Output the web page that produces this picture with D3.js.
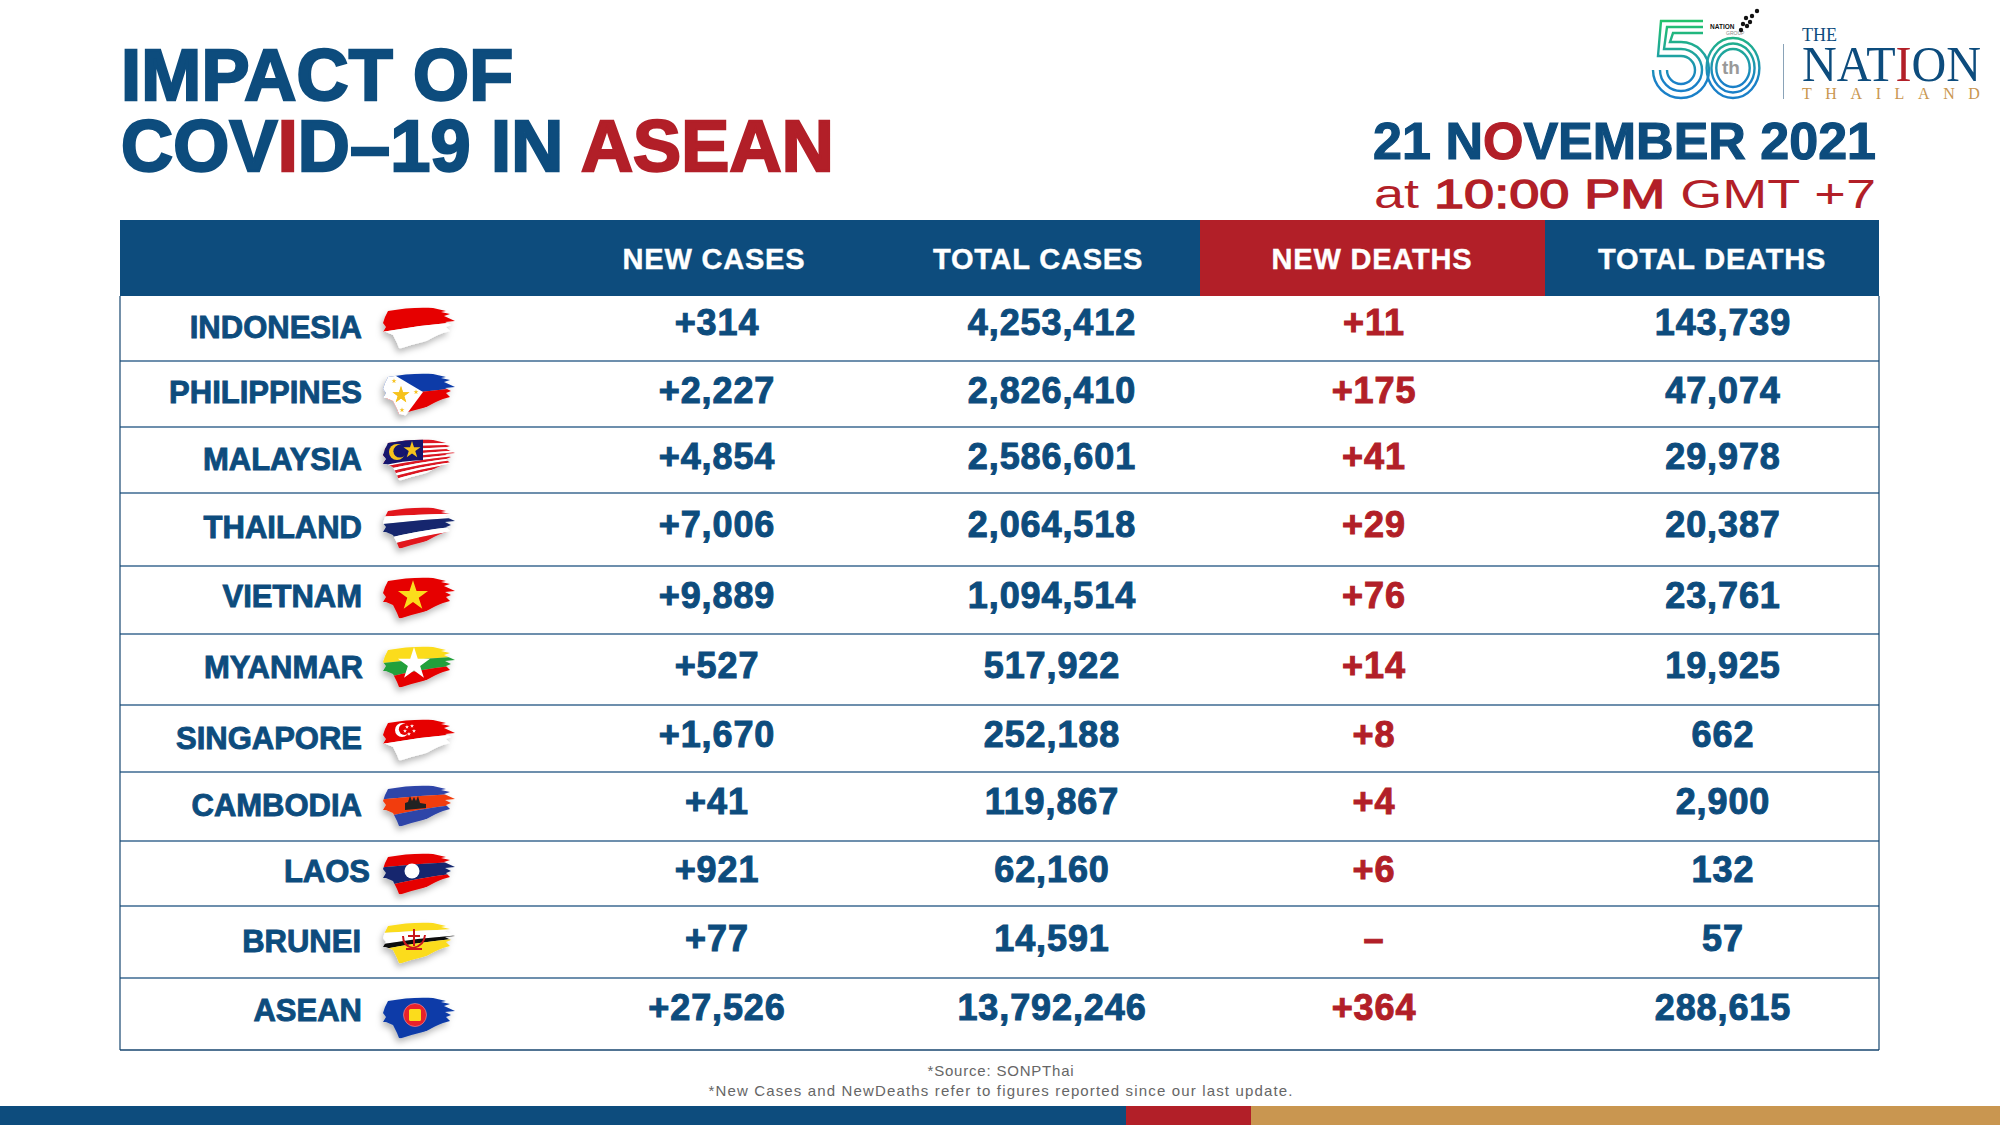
<!DOCTYPE html>
<html>
<head>
<meta charset="utf-8">
<script src="https://cdn.jsdelivr.net/npm/d3@7"></script>
<style>
  html, body { margin: 0; padding: 0; background: white; }
  svg { display: block; }
  text { font-family: "Liberation Sans", Arial, sans-serif; }
</style>
</head>
<body>
<svg></svg>
<script>
const countries = ["INDONESIA", "PHILIPPINES", "MALAYSIA", "THAILAND", "VIETNAM", "MYANMAR", "SINGAPORE", "CAMBODIA", "LAOS", "BRUNEI", "ASEAN"];
const newCases = [314, 2227, 4854, 7006, 9889, 527, 1670, 41, 921, 77, 27526];
const totalCases = [4253412, 2826410, 2586601, 2064518, 1094514, 517922, 252188, 119867, 62160, 14591, 13792246];
const newDeaths = [11, 175, 41, 29, 76, 14, 8, 4, 6, null, 364];
const totalDeaths = [143739, 47074, 29978, 20387, 23761, 19925, 662, 2900, 132, 57, 288615];
const columns = ["NEW CASES", "TOTAL CASES", "NEW DEATHS", "TOTAL DEATHS"];

const width = 2000;
const height = 1125;
const blue = "#0d4c7d";
const red = "#b21f28";
const tan = "#c99650";

const svg = d3.select("svg")
  .attr("width", width)
  .attr("height", height);

const defs = svg.append("defs");

// the rows of the original are not evenly spaced, so these are ordinal scales
const rowTop = d3.scaleOrdinal(countries, [296, 361, 427, 493, 566, 634, 705, 772, 841, 906, 978]);
const valueY = d3.scaleOrdinal(countries, [335, 403, 469, 537, 608, 678, 747, 814, 882, 951, 1020]);
const labelY = d3.scaleOrdinal(countries, [338, 403, 470, 538, 607, 678, 749, 816, 882, 952, 1021]);
const labelEnd = d3.scaleOrdinal(countries, [362, 362, 362, 362, 362, 363, 362, 362, 370, 361, 362]);
const flagY = d3.scaleOrdinal(countries, [307, 373, 439, 507, 577, 646, 719, 785, 853, 922, 997]);
const valueX = d3.scaleOrdinal(columns, [717, 1052, 1374, 1723]);
const headerX = d3.scaleOrdinal(columns, [714, 1038, 1372, 1712]);
const tableLeft = 120;
const tableRight = 1879;
const tableBottom = 1050;

const fmtNew = d3.format("+,");
const fmtTotal = d3.format(",");

// title
const title = svg.append("g")
  .attr("font-weight", 700)
  .attr("font-size", 72)
  .attr("letter-spacing", 0.2)
  .attr("stroke-width", 2.4);

title.append("text")
  .attr("x", 121)
  .attr("y", 100)
  .attr("fill", blue)
  .attr("stroke", blue)
  .text("IMPACT OF");

const line2 = title.append("text")
  .attr("x", 121)
  .attr("y", 171)
  .attr("fill", blue)
  .attr("stroke", blue);
line2.append("tspan").text("COV");
line2.append("tspan").attr("fill", red).attr("stroke", red).text("I");
line2.append("tspan").text("D\u201319 IN ");
line2.append("tspan").attr("fill", red).attr("stroke", red).text("ASEAN");

// date
const date = svg.append("text")
  .attr("x", 1876)
  .attr("y", 159)
  .attr("text-anchor", "end")
  .attr("font-size", 52)
  .attr("font-weight", 700)
  .attr("fill", blue)
  .attr("stroke", blue)
  .attr("stroke-width", 1.2);
date.append("tspan").text("21 N");
date.append("tspan").attr("fill", red).attr("stroke", red).text("O");
date.append("tspan").text("VEMBER 2021");

const time = svg.append("text")
  .attr("x", 1374)
  .attr("y", 208)
  .attr("font-size", 41)
  .attr("textLength", 502)
  .attr("lengthAdjust", "spacingAndGlyphs")
  .attr("fill", red);
time.append("tspan").text("at ");
time.append("tspan").attr("stroke", red).attr("stroke-width", 1.4).text("10:00 PM");
time.append("tspan").text(" GMT +7");

// table header
svg.append("rect")
  .attr("x", tableLeft)
  .attr("y", 220)
  .attr("width", tableRight - tableLeft)
  .attr("height", 76)
  .attr("fill", blue);

svg.append("rect")
  .attr("x", 1200)
  .attr("y", 220)
  .attr("width", 345)
  .attr("height", 76)
  .attr("fill", red);

svg.selectAll("text.head")
  .data(columns)
  .enter()
  .append("text")
  .attr("class", "head")
  .attr("x", d => headerX(d))
  .attr("y", 269)
  .attr("text-anchor", "middle")
  .attr("font-size", 29)
  .attr("font-weight", 700)
  .attr("letter-spacing", 0.8)
  .attr("fill", "white")
  .attr("stroke", "white")
  .attr("stroke-width", 0.4)
  .text(d => d);

// table borders
svg.selectAll("line.rowline")
  .data(countries.slice(1))
  .enter()
  .append("line")
  .attr("class", "rowline")
  .attr("x1", tableLeft)
  .attr("x2", tableRight)
  .attr("y1", d => rowTop(d))
  .attr("y2", d => rowTop(d))
  .attr("stroke", "#3c6a92")
  .attr("stroke-width", 1.5);

svg.append("line")
  .attr("x1", tableLeft).attr("x2", tableRight)
  .attr("y1", tableBottom).attr("y2", tableBottom)
  .attr("stroke", "#17466f")
  .attr("stroke-width", 1.5);

[tableLeft, tableRight].forEach(x => {
  svg.append("line")
    .attr("x1", x).attr("x2", x)
    .attr("y1", 296).attr("y2", tableBottom)
    .attr("stroke", "#17466f")
    .attr("stroke-width", 1.2);
});

// rows
const rows = svg.selectAll("g.row")
  .data(countries)
  .enter()
  .append("g")
  .attr("class", "row");

rows.append("text")
  .attr("x", d => labelEnd(d))
  .attr("y", d => labelY(d))
  .attr("text-anchor", "end")
  .attr("font-size", 31)
  .attr("font-weight", 700)
  .attr("fill", blue)
  .attr("stroke", blue)
  .attr("stroke-width", 0.9)
  .text(d => d);

const cells = [
  { col: columns[0], values: newCases, fmt: fmtNew, color: blue },
  { col: columns[1], values: totalCases, fmt: fmtTotal, color: blue },
  { col: columns[2], values: newDeaths, fmt: fmtNew, color: red },
  { col: columns[3], values: totalDeaths, fmt: fmtTotal, color: blue }
];

cells.forEach(c => {
  svg.append("g")
    .selectAll("text")
    .data(c.values)
    .enter()
    .append("text")
    .attr("x", valueX(c.col))
    .attr("y", (d, i) => valueY(countries[i]))
    .attr("text-anchor", "middle")
    .attr("font-size", 36)
    .attr("font-weight", 700)
    .attr("letter-spacing", 0.9)
    .attr("fill", c.color)
    .attr("stroke", c.color)
    .attr("stroke-width", 1)
    .text(d => d === null ? "\u2013" : c.fmt(d));
});

// flags: brush shape 72x44 with the stripes clipped to it
const brush = "M5,4 C20,1 38,0 50,1 L63,4 L58,5 L67,7 L61,9 L72,14 L62,15 L68,18 L63,20 L67,24 L60,26 C50,30 40,36 26,43 L16,41 L14,36 L12,32 L10,28 L3,25 L0,25 L3,20 L0,16 L2,10 Z";

defs.append("clipPath").attr("id", "brush").append("path").attr("d", brush);

const shadow = defs.append("filter")
  .attr("id", "flagShadow")
  .attr("x", "-30%").attr("y", "-30%")
  .attr("width", "160%").attr("height", "170%");
shadow.append("feDropShadow")
  .attr("dx", -2).attr("dy", 4)
  .attr("stdDeviation", 3)
  .attr("flood-opacity", 0.28);

const flagRed = "#e60000";
const flagNavy = "#14286e";
const flagBlue = "#0b3ba8";
const flagYellow = "#fbdc1e";
const flagGreen = "#22a03a";

function edge(t) {
  const yL = 2 + 46 * t;
  const yR = 2 + 26 * t;
  return [yL, (yL + yR) / 2 - 4 * t, yR];
}

function stripes(g, list) {
  let t = 0;
  list.forEach(([share, color]) => {
    const a = edge(t);
    const b = edge(t + share);
    const top = t === 0 ? -5 : 0;
    g.append("path")
      .attr("d", `M-2,${a[0] + top} Q36,${a[1] + top} 74,${a[2] + top} L74,${b[2]} Q36,${b[1]} -2,${b[0]} Z`)
      .attr("fill", color);
    t += share;
  });
}

function star(g, x, y, size, color) {
  g.append("path")
    .attr("d", d3.symbol().type(d3.symbolStar).size(size)())
    .attr("transform", `translate(${x},${y})`)
    .attr("fill", color);
}

function crescent(g, x, y, r, color, hole) {
  g.append("circle").attr("cx", x).attr("cy", y).attr("r", r).attr("fill", color);
  g.append("circle").attr("cx", x + r * 0.35).attr("cy", y - r * 0.1).attr("r", r * 0.8).attr("fill", hole);
}

const flagArt = {
  INDONESIA: g => stripes(g, [[0.5, flagRed], [0.5, "white"]]),
  PHILIPPINES: g => {
    stripes(g, [[0.5, flagBlue], [0.5, flagRed]]);
    g.append("path").attr("d", "M8,0 L40,19 L20,46 L-2,46 L-2,0 Z").attr("fill", "white");
    star(g, 18, 22, 90, "#f6c21c");
    star(g, 18, 22, 90, "#f6c21c");
    g.append("circle").attr("cx", 18).attr("cy", 22).attr("r", 3).attr("fill", "#f6c21c");
    star(g, 11, 8, 8, "#f6c21c");
    star(g, 33, 19, 8, "#f6c21c");
    star(g, 19, 37, 8, "#f6c21c");
  },
  MALAYSIA: g => {
    const band = [];
    for (let i = 0; i < 14; i++) band.push([1 / 14, i % 2 ? "white" : "#dc1420"]);
    stripes(g, band);
    g.append("path").attr("d", "M-2,-2 L40,-2 L40,21 Q18,22 -2,27 Z").attr("fill", "#12186e");
    crescent(g, 14, 13, 8, "#f6c21c", "#12186e");
    star(g, 29, 11, 90, "#f6c21c");
  },
  THAILAND: g => stripes(g, [[1 / 6, "#e2141e"], [1 / 6, "white"], [1 / 3, flagNavy], [1 / 6, "white"], [1 / 6, "#e2141e"]]),
  VIETNAM: g => {
    stripes(g, [[1, flagRed]]);
    star(g, 30, 19, 280, flagYellow);
  },
  MYANMAR: g => {
    stripes(g, [[1 / 3, flagYellow], [1 / 3, flagGreen], [1 / 3, flagRed]]);
    star(g, 31, 18, 320, "white");
  },
  SINGAPORE: g => {
    stripes(g, [[0.5, flagRed], [0.5, "white"]]);
    crescent(g, 19, 11, 7, "white", flagRed);
    [[24, 8], [29, 7], [31, 12], [26, 15], [22, 12]].forEach(p => star(g, p[0], p[1], 5, "white"));
  },
  CAMBODIA: g => {
    stripes(g, [[0.27, "#2f45a8"], [0.4, "#f23c10"], [0.33, "#2f45a8"]]);
    g.append("path")
      .attr("d", "M22,25 L22,18 L25,17 L27,11 L29,16 L31,12 L33,16 L35,11 L37,18 L43,19 L43,23 Z")
      .attr("fill", "#222");
  },
  LAOS: g => {
    stripes(g, [[0.27, flagRed], [0.43, flagNavy], [0.3, flagRed]]);
    g.append("circle").attr("cx", 29).attr("cy", 18).attr("r", 7.5).attr("fill", "white");
  },
  BRUNEI: g => {
    stripes(g, [[0.2, flagYellow], [0.24, "white"], [0.12, "#111"], [0.44, flagYellow]]);
    g.append("path")
      .attr("d", "M20,14 Q20,24 30,26 Q41,24 42,13 M25,14 L37,14 M31,7 L31,24 M23,27 L39,27")
      .attr("fill", "none")
      .attr("stroke", "#c8141e")
      .attr("stroke-width", 2);
  },
  ASEAN: g => {
    stripes(g, [[1, flagBlue]]);
    g.append("circle").attr("cx", 32).attr("cy", 18).attr("r", 11.5).attr("fill", "#e8202c").attr("stroke", "#e9a0a8").attr("stroke-width", 0.6);
    g.append("rect").attr("x", 26).attr("y", 12).attr("width", 12).attr("height", 12).attr("rx", 1.5).attr("fill", flagYellow);
  }
};

countries.forEach(name => {
  const g = svg.append("g")
    .attr("transform", `translate(383,${flagY(name)})`)
    .attr("filter", "url(#flagShadow)");
  const art = g.append("g").attr("clip-path", "url(#brush)");
  flagArt[name](art);
});

// logo
const ringColor = defs.append("linearGradient")
  .attr("id", "ring")
  .attr("gradientUnits", "userSpaceOnUse")
  .attr("x1", 0).attr("x2", 0)
  .attr("y1", 20).attr("y2", 98);
ringColor.append("stop").attr("offset", "0%").attr("stop-color", "#22c36a");
ringColor.append("stop").attr("offset", "45%").attr("stop-color", "#1fa3a0");
ringColor.append("stop").attr("offset", "80%").attr("stop-color", "#1a80c8");

const logo = svg.append("g")
  .attr("fill", "none")
  .attr("stroke", "url(#ring)")
  .attr("stroke-width", 2.4);

[30, 24.5, 19].forEach(r => {
  logo.append("ellipse")
    .attr("cx", 1733).attr("cy", 68)
    .attr("rx", r * 0.88).attr("ry", r);
});

[0, 1, 2].forEach(i => {
  const x = 1658 + 6 * i;
  const r = 14 + 7 * i;
  logo.append("path")
    .attr("d", `M1703,${21 + 6 * i} H${x + 3} L${x},${70 - r} H1681 A${r} ${r} 0 1 1 ${1681 - r},70`);
});

svg.append("text").attr("x", 1731).attr("y", 74)
  .attr("text-anchor", "middle")
  .attr("font-size", 19).attr("font-weight", 700)
  .attr("fill", "#999")
  .text("th");

svg.append("text").attr("x", 1710).attr("y", 29)
  .attr("font-size", 6.5).attr("font-weight", 700).attr("fill", "#111")
  .text("NATION");
svg.append("text").attr("x", 1726).attr("y", 35)
  .attr("font-size", 5).attr("fill", "#888")
  .text("GROUP");

// dots of the group mark
const dots = [[1757, 11], [1752, 16], [1746, 18], [1750, 22], [1743, 24], [1747, 26], [1741, 30]];
svg.selectAll("circle.dot")
  .data(dots)
  .enter()
  .append("circle")
  .attr("class", "dot")
  .attr("cx", d => d[0])
  .attr("cy", d => d[1])
  .attr("r", 2.2)
  .attr("fill", "#111");

svg.append("line")
  .attr("x1", 1783.5).attr("x2", 1783.5)
  .attr("y1", 44).attr("y2", 99)
  .attr("stroke", "#8aa3b8");

const serif = '"Liberation Serif", "Times New Roman", serif';

svg.append("text").attr("x", 1802).attr("y", 41)
  .style("font-family", serif)
  .attr("font-size", 18)
  .attr("fill", blue)
  .text("THE");

const nation = svg.append("text").attr("x", 1802).attr("y", 81)
  .style("font-family", serif)
  .attr("font-size", 51)
  .attr("fill", blue)
  .attr("textLength", 179)
  .attr("lengthAdjust", "spacingAndGlyphs");
nation.append("tspan").text("NAT");
nation.append("tspan").attr("fill", red).text("I");
nation.append("tspan").text("ON");

svg.append("text").attr("x", 1802).attr("y", 99)
  .style("font-family", serif)
  .attr("font-size", 16)
  .attr("letter-spacing", 13.6)
  .attr("fill", tan)
  .text("THAILAND");

// footnotes
svg.append("text")
  .attr("x", 1001).attr("y", 1076)
  .attr("text-anchor", "middle")
  .attr("font-size", 15)
  .attr("letter-spacing", 0.8)
  .attr("fill", "#666")
  .text("*Source: SONPThai");

svg.append("text")
  .attr("x", 1001).attr("y", 1096)
  .attr("text-anchor", "middle")
  .attr("font-size", 15)
  .attr("letter-spacing", 1.15)
  .attr("fill", "#666")
  .text("*New Cases and NewDeaths refer to figures reported since our last update.");

// bottom bar
const barParts = [[0, 1126, blue], [1126, 1251, red], [1251, 2000, tan]];
svg.selectAll("rect.bar")
  .data(barParts)
  .enter()
  .append("rect")
  .attr("class", "bar")
  .attr("x", d => d[0])
  .attr("y", 1106)
  .attr("width", d => d[1] - d[0])
  .attr("height", 19)
  .attr("fill", d => d[2]);
</script>
</body>
</html>
